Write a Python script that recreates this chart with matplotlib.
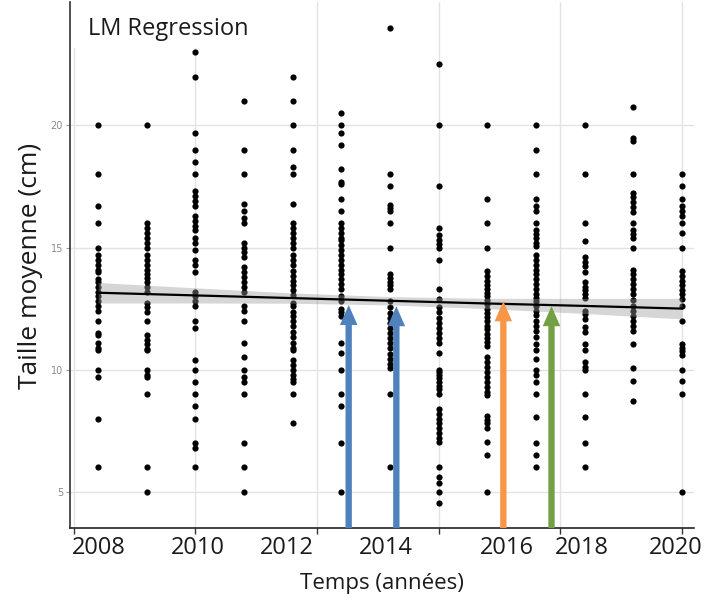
import numpy as np
import matplotlib
matplotlib.use("Agg")
import matplotlib.pyplot as plt
from matplotlib.transforms import blended_transform_factory

# Mean size (cm) per yearly sample
size_2008 = [20, 18, 16.7, 16, 15, 14.7, 14.5, 14.3, 14.1, 14.0, 13.7, 13.6, 13.4, 13.2,
             13.0, 12.8, 12.6, 12.4, 12.0, 11.5, 11.4, 11.1, 10.9, 10.8, 10.0, 9.7, 8.0, 6.0]
size_2009 = [20, 16.0, 15.8, 15.6, 15.4, 15.2, 15.0, 14.7, 14.5, 14.3, 14.1, 13.9, 13.75,
             13.6, 13.4, 13.2, 12.75, 12.55, 12.35, 12.0, 11.4, 11.2, 11.05, 10.85, 10.8,
             10.0, 9.8, 9.7, 9.0, 6.0, 5.0]
size_2010 = [23.0, 22.0, 19.7, 19.0, 18.5, 18.0, 17.3, 17.1, 16.9, 16.7, 16.3, 16.1, 15.9,
             15.7, 15.4, 15.2, 14.9, 14.5, 14.3, 14.0, 13.2, 13.0, 12.8, 12.6, 12.0, 11.7,
             10.4, 10.0, 9.5, 9.0, 8.5, 8.0, 7.0, 6.8, 6.0]
size_2011 = [21.0, 19.0, 18.0, 16.8, 16.5, 16.2, 16.0, 15.2, 15.0, 14.8, 14.6, 14.2, 14.0,
             13.8, 13.6, 13.4, 13.2, 12.6, 12.4, 12.0, 11.1, 10.5, 10.0, 9.7, 9.5, 9.0,
             7.0, 6.0, 5.0]
size_2012 = [22.0, 21.0, 20.0, 19.0, 18.3, 18.0, 16.8, 16.0, 15.8, 15.6, 15.4, 15.2, 15.0,
             14.7, 14.5, 14.3, 14.05, 13.85, 13.65, 13.45, 13.25, 13.05, 12.75, 12.6,
             12.35, 12.2, 12.0, 11.8, 11.55, 11.35, 11.1, 10.9, 10.8, 10.4, 10.2, 10.0,
             9.8, 9.6, 9.5, 9.0, 7.8]
size_2013 = [20.5, 20.0, 19.7, 19.2, 18.2, 17.7, 17.6, 17.0, 16.5, 16.0, 15.8, 15.6, 15.4,
             15.3, 15.1, 14.9, 14.7, 14.5, 14.3, 14.1, 13.9, 13.7, 13.5, 13.3, 13.0, 12.8,
             12.5, 12.35, 12.2, 11.1, 10.7, 10.0, 9.0, 8.5, 7.0, 5.0]
size_2014 = [24.0, 18.0, 17.5, 16.75, 16.6, 16.5, 16.0, 15.0, 13.9, 13.75, 13.6, 13.45,
             13.3, 12.8, 12.55, 12.3, 12.1, 11.9, 11.7, 11.5, 11.3, 11.1, 10.9, 10.65,
             10.45, 10.25, 10.05, 9.0, 6.0]
size_2015 = [22.5, 20.0, 17.5, 15.8, 15.5, 15.3, 15.15, 15.0, 14.5, 13.3, 12.9, 12.55,
             12.35, 12.1, 11.9, 11.7, 11.5, 11.3, 11.1, 10.7, 10.0, 9.9, 9.8, 9.65, 9.5,
             9.35, 9.2, 9.0, 8.4, 8.2, 8.0, 7.8, 7.6, 7.4, 7.2, 7.05, 6.0, 5.6, 5.35, 5.0,
             4.55]
size_2016 = [20, 17, 16, 15, 14.05, 13.85, 13.65, 13.45, 13.3, 13.15, 13.0, 12.85, 12.67,
             12.5, 12.33, 12.15, 12.0, 11.8, 11.65, 11.47, 11.3, 11.13, 10.95, 10.5, 10.3,
             10.1, 9.9, 9.7, 9.5, 9.3, 9.1, 8.95, 8.1, 7.95, 7.8, 7.6, 7.05, 6.5, 5.0]
size_2017 = [20, 19, 18, 17, 16.7, 16.5, 16.0, 15.7, 15.55, 15.4, 15.2, 15.05, 14.7, 14.5,
             14.3, 14.1, 13.9, 13.7, 13.5, 13.3, 13.1, 12.95, 12.83, 12.62, 12.42, 12.22,
             12.0, 11.8, 11.6, 11.33, 11.06, 10.8, 10.45, 10.0, 9.77, 9.5, 9.0, 8.05,
             7.0, 6.5, 6.0]
size_2018 = [20, 18, 16, 15.25, 14.6, 14.4, 14.25, 14.0, 13.6, 13.4, 13.25, 13.1, 12.95,
             12.42, 12.29, 12.08, 11.74, 11.53, 11.06, 10.8, 10.32, 10.11, 9.98, 9.0,
             8.05, 7.0, 6.0]
size_2019 = [20.75, 19.5, 19.35, 18.0, 17.25, 17.05, 16.85, 16.65, 16.45, 16.0, 15.7,
             15.55, 15.4, 15.0, 14.1, 13.9, 13.7, 13.5, 13.3, 13.1, 12.85, 12.6, 12.4,
             12.2, 12.0, 11.8, 11.6, 11.05, 10.05, 9.55, 8.7]
size_2020 = [18.0, 17.5, 17.0, 16.7, 16.5, 16.3, 16.0, 15.6, 15.0, 14.05, 13.85, 13.65,
             13.45, 13.25, 13.1, 12.9, 12.6, 12.0, 11.05, 10.9, 10.75, 10.6, 10.0, 9.55,
             9.0, 5.0]

years = list(range(2008, 2021))
samples = [size_2008, size_2009, size_2010, size_2011, size_2012, size_2013, size_2014,
           size_2015, size_2016, size_2017, size_2018, size_2019, size_2020]

# Linear fit and its confidence band
fit_x = [2008, 2010, 2012, 2014, 2016, 2018, 2020]
fit_y = [13.15, 13.04, 12.93, 12.82, 12.71, 12.61, 12.5]
fit_halfwidth = [0.42, 0.31, 0.21, 0.17, 0.21, 0.31, 0.42]

# Event markers
event_x = [2013.15, 2014.13, 2016.33, 2017.32]
event_top = [12.65, 12.6, 12.8, 12.6]
event_colors = ["#4F81BD", "#4F81BD", "#F79646", "#72A044"]

# Year labels under the axis
year_labels = ["2008", "2010", "2012", "2014", "2016", "2018", "2020"]
year_label_x = [2008.02, 2010.04, 2011.88, 2013.92, 2016.4, 2017.95, 2019.88]

grid_x = [2007.5, 2010, 2012.5, 2015, 2017.5, 2020]
grid_y = [5, 10, 15, 20]

W, H = 726, 603
fig = plt.figure(figsize=(W / 100, H / 100), dpi=100)
ax = fig.add_axes([70 / W, 1 - 528 / H, 624 / W, 526 / H])
xmin, xmax = 2007.42, 2020.25
ymin, ymax = 3.52, 25.05
ax.set_xlim(xmin, xmax)
ax.set_ylim(ymin, ymax)

for gx in grid_x:
    ax.axvline(gx, color="#e3e3e3", lw=1.0, zorder=0)
for gy in grid_y:
    ax.axhline(gy, color="#e3e3e3", lw=1.0, zorder=0)

for yr, vals in zip(years, samples):
    ax.scatter([yr] * len(vals), vals, s=20, color="black", linewidths=0, zorder=2)

lo = np.array(fit_y) - np.array(fit_halfwidth)
hi = np.array(fit_y) + np.array(fit_halfwidth)
ax.fill_between(fit_x, lo, hi, color="#999999", alpha=0.4, lw=0, zorder=3)
ax.plot(fit_x, fit_y, color="black", lw=1.6, zorder=4)

for ex, et, ec in zip(event_x, event_top, event_colors):
    ax.arrow(ex, ymin, 0, et - ymin, width=0.13, head_width=0.36, head_length=0.82,
             length_includes_head=True, color=ec, lw=0, zorder=5)

# white panel behind the title
ax.fill_between([xmin, 2012.2], 23.15, ymax, color="white", lw=0, zorder=1)

for side in ("top", "right"):
    ax.spines[side].set_visible(False)
ax.spines["left"].set_color("#333333")
ax.spines["bottom"].set_color("#222222")
ax.spines["left"].set_linewidth(1.2)
ax.spines["bottom"].set_linewidth(1.2)

ax.set_xticks(grid_x)
ax.set_xticklabels([])
ax.tick_params(axis="x", length=4, width=1, color="#333333")
ax.set_yticks(grid_y)
ax.set_yticklabels([str(v) for v in grid_y], fontsize=7, color="#8a8a8a",
                   family="DejaVu Sans")
ax.tick_params(axis="y", length=3, width=0.8, color="#9a9a9a", pad=2)

tr = blended_transform_factory(ax.transData, ax.transAxes)
for lab, lx in zip(year_labels, year_label_x):
    ax.text(lx, -0.038, lab, transform=tr, ha="center", va="center",
            fontsize=17, family="Open Sans", color="#1a1a1a")

fig.text(382 / W, 1 - 583 / H, "Temps (années)", ha="center", va="center",
         fontsize=16, family="Open Sans", color="#1a1a1a")
fig.text(31 / W, 1 - 266 / H, "Taille moyenne (cm)", ha="center", va="center",
         rotation=90, fontsize=19, family="Open Sans", color="#1a1a1a")
fig.text(88 / W, 1 - 29 / H, "LM Regression", ha="left", va="center",
         fontsize=17, family="Open Sans", color="#1a1a1a")

fig.savefig("out.png", dpi=100)
